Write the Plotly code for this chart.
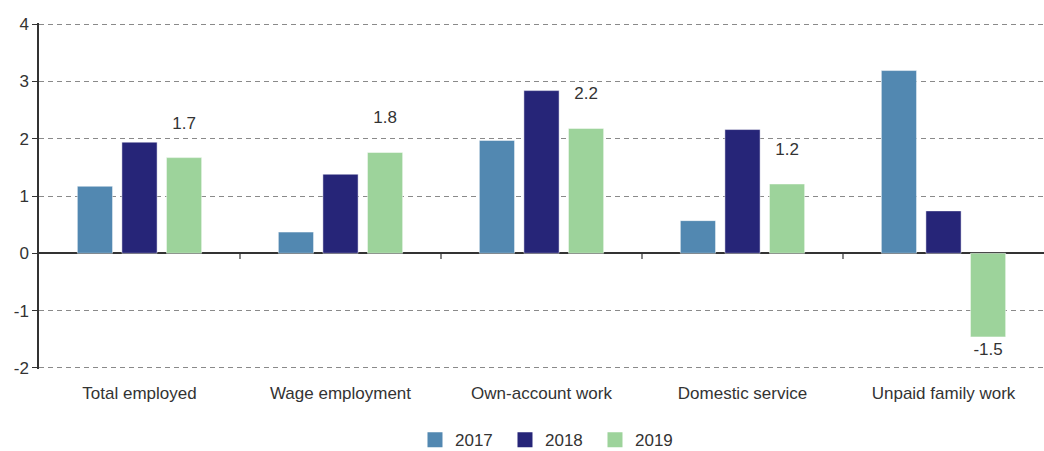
import plotly.graph_objects as go

categories = ["Total employed", "Wage employment", "Own-account work", "Domestic service", "Unpaid family work"]
v2017 = [1.17, 0.37, 1.97, 0.57, 3.19]
v2018 = [1.94, 1.38, 2.84, 2.16, 0.74]
v2019 = [1.67, 1.76, 2.18, 1.21, -1.46]
years = ["2017", "2018", "2019"]
colors = ["#5288B1", "#262578", "#9DD39B"]
ytick_vals = [-2, -1, 0, 1, 2, 3, 4]
ytick_text = ["-2", "-1", "0", "1", "2", "3", "4"]

FONT = "Liberation Sans, Arial, sans-serif"
TXT = "#333333"

fig = go.Figure()
for name, vals, col in zip(years, [v2017, v2018, v2019], colors):
    show_text = name == "2019"
    templ = None
    if show_text:
        templ = ["%{y:.1f}<br>\u00a0" if v >= 0 else "%{y:.1f}" for v in vals]
    fig.add_trace(go.Bar(
        x=categories, y=vals, name=name, showlegend=False,
        marker=dict(color=col, line=dict(color="rgba(255,255,255,0.6)", width=0.8)),
        texttemplate=templ,
        textposition="outside" if show_text else "none",
        textfont=dict(size=17, color=TXT, family=FONT),
        cliponaxis=False,
    ))
    # legend entry with square swatch
    fig.add_trace(go.Scatter(
        x=[None], y=[None], mode="markers", name=name,
        marker=dict(symbol="square", size=15, color=col),
        showlegend=True,
    ))

# small tick marks at category boundaries on the zero line
shapes = []
for i in range(len(categories) - 1):
    shapes.append(dict(type="line", xref="x", yref="y", x0=i + 0.5, x1=i + 0.5,
                       y0=0, y1=-0.1, line=dict(color=TXT, width=1.2)))

fig.update_layout(
    width=1044, height=451,
    margin=dict(l=39, r=0, t=23, b=82),
    plot_bgcolor="white", paper_bgcolor="white",
    barmode="group", bargap=0.335, bargroupgap=0.21,
    font=dict(family=FONT, size=17, color=TXT),
    showlegend=True,
    legend=dict(orientation="h", x=0.3975, xanchor="left", xref="container",
                y=0.024, yanchor="middle", yref="container",
                font=dict(size=17, color=TXT), itemwidth=30, itemsizing="trace",
                entrywidth=45, traceorder="normal"),
    shapes=shapes,
)
fig.update_xaxes(showgrid=False, ticks="", showline=False, ticklabelstandoff=12,
                 tickfont=dict(size=17, color=TXT))
fig.update_yaxes(range=[-2.02, 4.02], tickvals=ytick_vals, ticktext=ytick_text,
                 showgrid=True, gridcolor="#8a8a8a", griddash="5px,4px",
                 gridwidth=1, zeroline=True, zerolinecolor=TXT, zerolinewidth=1.5,
                 showline=True, linecolor=TXT, linewidth=1.5,
                 ticks="outside", ticklen=5, tickcolor=TXT,
                 tickfont=dict(size=17, color=TXT))

fig.write_html("out.html")
